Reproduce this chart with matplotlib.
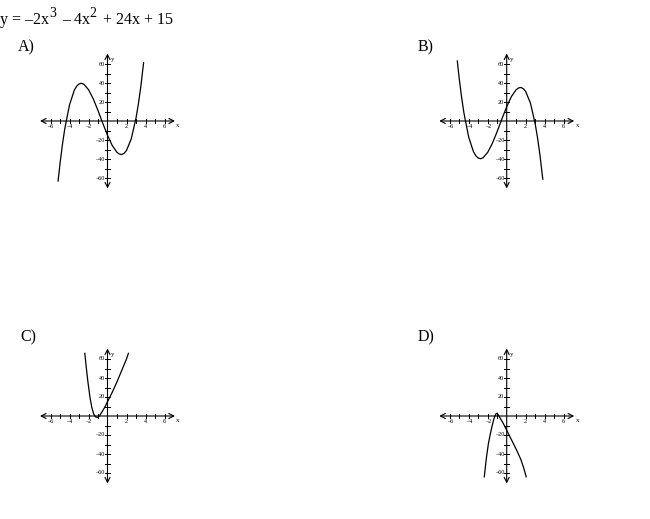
import numpy as np
import matplotlib
matplotlib.use('Agg')
import matplotlib.pyplot as plt

plt.rcParams['font.family'] = ['Liberation Serif', 'DejaVu Serif']

# --------------------------
# Data
# --------------------------
# title pieces: (text, superscript?)
title_parts = [('y = –2x', False), ('3', True), ('– 4x', False), ('2', True),
               ('+ 24x + 15', False)]
choice_labels = ['A)', 'B)', 'C)', 'D)']

# A) curve points
a_x = [-5.2, -5.1, -5.0, -4.75, -4.5, -4.0, -3.5, -3.25, -3.0, -2.75, -2.5, -2.0,
       -1.5, -1.0, -0.5, 0.0, 0.5, 1.0, 1.25, 1.5, 1.75, 2.0, 2.5, 3.0, 3.25,
       3.5, 3.8]
a_y = [-63.2, -53.9, -45.0, -25.1, -8.3, 17.0, 32.3, 36.6, 39.0, 39.7, 38.8, 33.0,
       23.3, 11.0, -2.3, -15.0, -25.8, -33.0, -34.8, -35.3, -34.0, -31.0, -18.8,
       3.0, 17.9, 35.8, 61.3]

# B) curve points
b_x = [-5.2, -5.1, -5.0, -4.75, -4.5, -4.0, -3.5, -3.25, -3.0, -2.75, -2.5, -2.0,
       -1.5, -1.0, -0.5, 0.0, 0.5, 1.0, 1.25, 1.5, 1.75, 2.0, 2.5, 3.0, 3.25,
       3.5, 3.8]
b_y = [63.2, 53.9, 45.0, 25.1, 8.3, -17.0, -32.3, -36.6, -39.0, -39.7, -38.8, -33.0,
       -23.3, -11.0, 2.3, 15.0, 25.8, 33.0, 34.8, 35.3, 34.0, 31.0, 18.8,
       -3.0, -17.9, -35.8, -61.3]

# C) curve points
c_x = [-2.39, -2.2, -2.05, -1.85, -1.65, -1.45, -1.25, -1.1, -0.9, -0.6,
       -0.3, 0.0, 0.5, 1.0, 1.5, 2.0, 2.2]
c_y = [66, 48, 35, 20, 9, 2, -1, -1.5, -0.5, 4, 9, 15, 25, 36, 48, 60, 66]

# D) curve points
d_x = [-2.36, -2.15, -1.94, -1.75, -1.55, -1.35, -1.15, -1.0, -0.7, -0.35,
       0.0, 0.5, 1.0, 1.5, 1.8, 2.05]
d_y = [-64, -45, -30, -20, -11, -3, 2, 3, -2, -8, -15, -25, -35, -46, -55, -64]

curves = [(a_x, a_y), (b_x, b_y), (c_x, c_y), (d_x, d_y)]

x_tick_labels = [-6, -4, -2, 2, 4, 6]
y_tick_labels = [-60, -40, -20, 20, 40, 60]

# --------------------------
# Layout (pixel positions of each graph origin and its letter)
# --------------------------
W, H = 650, 519
origins = [(107.5, 121), (506.7, 121), (107.5, 416), (506.7, 416)]
label_pos = [(18, 47), (418, 47), (20, 337), (418, 337)]
unit = 9.5  # px per x unit (and per 10 y units)

fig = plt.figure(figsize=(W / 100, H / 100), dpi=100)
renderer = fig.canvas.get_renderer()

# title, written piece by piece so the exponents stay near full size
x_px = 0
for txt, sup in title_parts:
    base = 1 - 24 / H
    t = fig.text(x_px / W, base + (7 / H if sup else 0), txt,
                 fontsize=10 if sup else 11.5, va='baseline', ha='left')
    x_px += t.get_window_extent(renderer).width + (6 if sup else 0)

for (ox, oy), (lx, ly), lab, (cx, cy) in zip(origins, label_pos, choice_labels, curves):
    fig.text(lx / W, 1 - ly / H, lab, fontsize=11.5, va='center', ha='left')

    half = 7 * unit
    ax = fig.add_axes([(ox - half) / W, 1 - (oy + half) / H, 2 * half / W, 2 * half / H])
    ax.set_xlim(-7, 7)
    ax.set_ylim(-70, 70)
    ax.axis('off')

    # axes with arrows
    arrow = dict(arrowstyle='<->,head_length=0.35,head_width=0.18', lw=0.8, color='black',
                 shrinkA=0, shrinkB=0)
    ax.annotate('', xy=(7.1, 0), xytext=(-7.1, 0), arrowprops=arrow, annotation_clip=False)
    ax.annotate('', xy=(0, 71), xytext=(0, -71), arrowprops=arrow, annotation_clip=False)

    # tick marks
    for t in range(-6, 7):
        if t != 0:
            ax.plot([t, t], [-2.6, 2.6], color='black', lw=0.7)
    for t in range(-60, 70, 10):
        if t != 0:
            ax.plot([-0.26, 0.26], [t, t], color='black', lw=0.7)

    # tick labels
    for t in x_tick_labels:
        ax.text(t, -3.5, '–%d' % -t if t < 0 else str(t), fontsize=4.5,
                ha='center', va='top')
    for t in y_tick_labels:
        ax.text(-0.28, t, '–%d' % -t if t < 0 else str(t), fontsize=4.5,
                ha='right', va='center')
    ax.text(7.25, -5, 'x', fontsize=5, ha='left', va='center')
    ax.text(0.35, 65, 'y', fontsize=5, ha='left', va='center')

    ax.plot(cx, cy, color='black', lw=0.9, clip_on=False)

fig.savefig('out.png', dpi=100)
